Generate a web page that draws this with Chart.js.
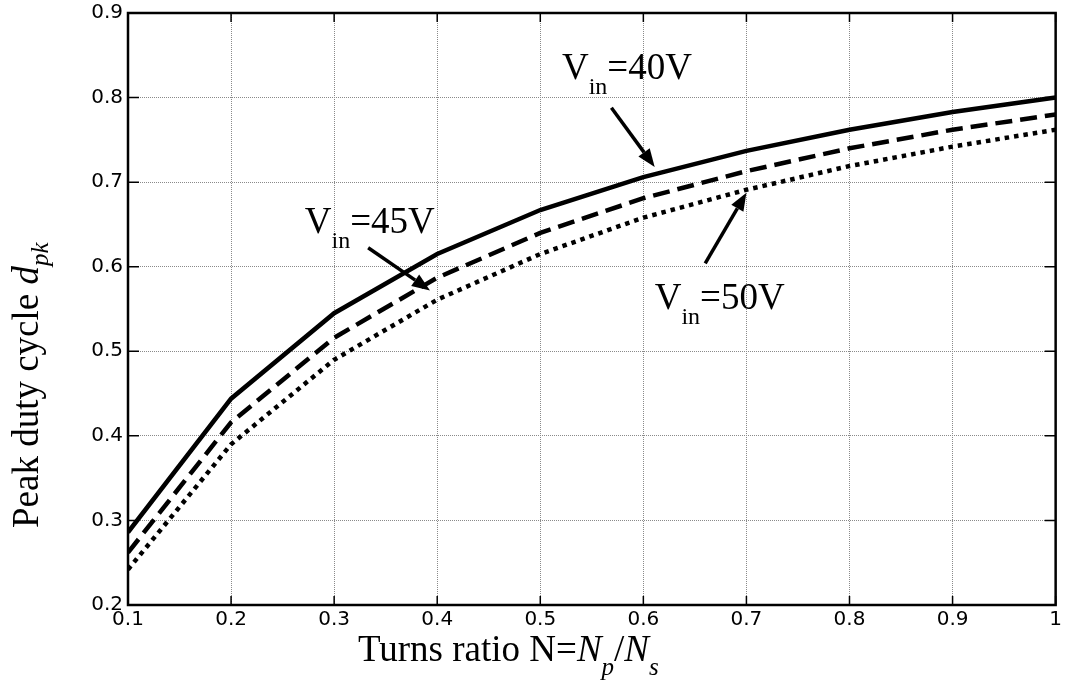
<!DOCTYPE html>
<html>
<head>
<meta charset="utf-8">
<title>Peak duty cycle vs turns ratio</title>
<script src="https://cdn.jsdelivr.net/npm/chart.js@4.4.1/dist/chart.umd.min.js"></script>
<style>
  html, body { margin: 0; padding: 0; background: #fff; }
  #wrap { width: 1065px; height: 683px; }
</style>
</head>
<body>
<div id="wrap"><canvas id="chart" width="1065" height="683"></canvas></div>
<script>
  // data
  const turnsRatio = [0.1, 0.2, 0.3, 0.4, 0.5, 0.6, 0.7, 0.8, 0.9, 1.0];
  const dpk40 = [0.286, 0.444, 0.545, 0.615, 0.667, 0.706, 0.737, 0.762, 0.783, 0.800];
  const dpk45 = [0.262, 0.416, 0.516, 0.587, 0.640, 0.681, 0.713, 0.740, 0.762, 0.780];
  const dpk50 = [0.242, 0.390, 0.490, 0.561, 0.615, 0.658, 0.691, 0.719, 0.742, 0.762];

  const xTickValues = [0.1, 0.2, 0.3, 0.4, 0.5, 0.6, 0.7, 0.8, 0.9, 1.0];
  const xTickLabels = ["0.1", "0.2", "0.3", "0.4", "0.5", "0.6", "0.7", "0.8", "0.9", "1"];
  const yTickValues = [0.2, 0.3, 0.4, 0.5, 0.6, 0.7, 0.8, 0.9];
  const yTickLabels = ["0.2", "0.3", "0.4", "0.5", "0.6", "0.7", "0.8", "0.9"];

  const serif = '"Liberation Serif", "Times New Roman", serif';
  const sans = '"DejaVu Sans", Arial, sans-serif';

  function pts(ys) {
    return turnsRatio.map((x, i) => ({ x: x, y: ys[i] }));
  }

  // callouts, anchored in data units
  const notes = [
    { value: "40V", at: [0.521, 0.822], from: [0.569, 0.788], to: [0.611, 0.718] },
    { value: "45V", at: [0.2715, 0.640], from: [0.333, 0.6225], to: [0.393, 0.572] },
    { value: "50V", at: [0.611, 0.5505], from: [0.660, 0.604], to: [0.700, 0.6875] },
  ];

  function drawArrow(ctx, x1, y1, x2, y2) {
    const a = Math.atan2(y2 - y1, x2 - x1);
    const len = 18, half = 7;
    const bx = x2 - len * Math.cos(a), by = y2 - len * Math.sin(a);
    ctx.beginPath();
    ctx.moveTo(x1, y1);
    ctx.lineTo(bx, by);
    ctx.lineWidth = 3.5;
    ctx.stroke();
    ctx.beginPath();
    ctx.moveTo(x2, y2);
    ctx.lineTo(bx + half * Math.sin(a), by - half * Math.cos(a));
    ctx.lineTo(bx - half * Math.sin(a), by + half * Math.cos(a));
    ctx.closePath();
    ctx.fill();
  }

  // draws a run of [text, font, baselineShift] pieces, returns end x
  function drawRuns(ctx, x, y, runs) {
    runs.forEach((r) => {
      ctx.font = r[1];
      ctx.fillText(r[0], x, y + r[2]);
      x += ctx.measureText(r[0]).width;
    });
    return x;
  }

  const decorPlugin = {
    id: "decor",
    afterDatasetsDraw(chart) {
      const { ctx, chartArea: a, scales } = chart;
      const sx = scales.x, sy = scales.y;
      ctx.save();
      ctx.strokeStyle = "#000";
      ctx.fillStyle = "#000";

      // frame
      ctx.lineWidth = 2.5;
      ctx.strokeRect(a.left, a.top, a.right - a.left, a.bottom - a.top);

      // inward ticks
      ctx.lineWidth = 1.5;
      ctx.beginPath();
      xTickValues.forEach((v) => {
        const px = sx.getPixelForValue(v);
        ctx.moveTo(px, a.bottom);
        ctx.lineTo(px, a.bottom - 9);
        ctx.moveTo(px, a.top);
        ctx.lineTo(px, a.top + 9);
      });
      yTickValues.forEach((v) => {
        const py = sy.getPixelForValue(v);
        ctx.moveTo(a.left, py);
        ctx.lineTo(a.left + 11, py);
        ctx.moveTo(a.right, py);
        ctx.lineTo(a.right - 11, py);
      });
      ctx.stroke();

      // callouts
      ctx.textBaseline = "alphabetic";
      notes.forEach((n) => {
        const tx = sx.getPixelForValue(n.at[0]);
        const ty = sy.getPixelForValue(n.at[1]);
        drawRuns(ctx, tx, ty, [
          ["V", "37px " + serif, 0],
          ["in", "24px " + serif, 15],
          ["=" + n.value, "37px " + serif, 0],
        ]);
        drawArrow(
          ctx,
          sx.getPixelForValue(n.from[0]), sy.getPixelForValue(n.from[1]),
          sx.getPixelForValue(n.to[0]), sy.getPixelForValue(n.to[1])
        );
      });

      // x axis title
      drawRuns(ctx, a.left + 230, a.bottom + 56, [
        ["Turns ratio N=", "37px " + serif, 0],
        ["N", "italic 37px " + serif, 0],
        ["p", "italic 25px " + serif, 14],
        ["/", "37px " + serif, 0],
        ["N", "italic 37px " + serif, 0],
        ["s", "italic 25px " + serif, 14],
      ]);

      // y axis title
      ctx.translate(38, a.bottom - 77);
      ctx.rotate(-Math.PI / 2);
      drawRuns(ctx, 0, 0, [
        ["Peak duty cycle ", "37px " + serif, 0],
        ["d", "italic 37px " + serif, 0],
        ["pk", "italic 25px " + serif, 10],
      ]);
      ctx.restore();
    },
  };

  new Chart(document.getElementById("chart"), {
    type: "line",
    data: {
      datasets: [
        { label: "Vin=40V", data: pts(dpk40), borderDash: [] },
        { label: "Vin=45V", data: pts(dpk45), borderDash: [17, 8] },
        { label: "Vin=50V", data: pts(dpk50), borderDash: [4.5, 5] },
      ],
    },
    options: {
      responsive: false,
      animation: false,
      devicePixelRatio: 1,
      elements: {
        line: { borderColor: "#000", borderWidth: 4.5, tension: 0, fill: false, borderCapStyle: "butt" },
        point: { radius: 0, hoverRadius: 0 },
      },
      layout: { padding: { left: 0, top: 12, right: 9, bottom: 0 } },
      plugins: { legend: { display: false }, tooltip: { enabled: false } },
      scales: {
        x: {
          type: "linear",
          min: 0.1,
          max: 1,
          afterBuildTicks: (s) => { s.ticks = xTickValues.map((v) => ({ value: v })); },
          afterFit: (s) => { s.height = 78; },
          ticks: {
            callback: (v, i) => xTickLabels[i],
            font: { family: sans, size: 20 }, color: "#000", padding: 3,
            maxRotation: 0, autoSkip: false,
          },
          grid: { color: "#8a8a8a", lineWidth: 1, drawTicks: false },
          border: { display: false, dash: [1, 1] },
        },
        y: {
          type: "linear",
          min: 0.2,
          max: 0.9,
          afterBuildTicks: (s) => { s.ticks = yTickValues.map((v) => ({ value: v })); },
          afterFit: (s) => { s.width = 128; },
          ticks: {
            callback: (v, i) => yTickLabels[i],
            font: { family: sans, size: 20, lineHeight: 0.8 }, color: "#000", padding: 5, autoSkip: false,
          },
          grid: { color: "#8a8a8a", lineWidth: 1, drawTicks: false },
          border: { display: false, dash: [1, 1] },
        },
      },
    },
    plugins: [decorPlugin],
  });
</script>
</body>
</html>
